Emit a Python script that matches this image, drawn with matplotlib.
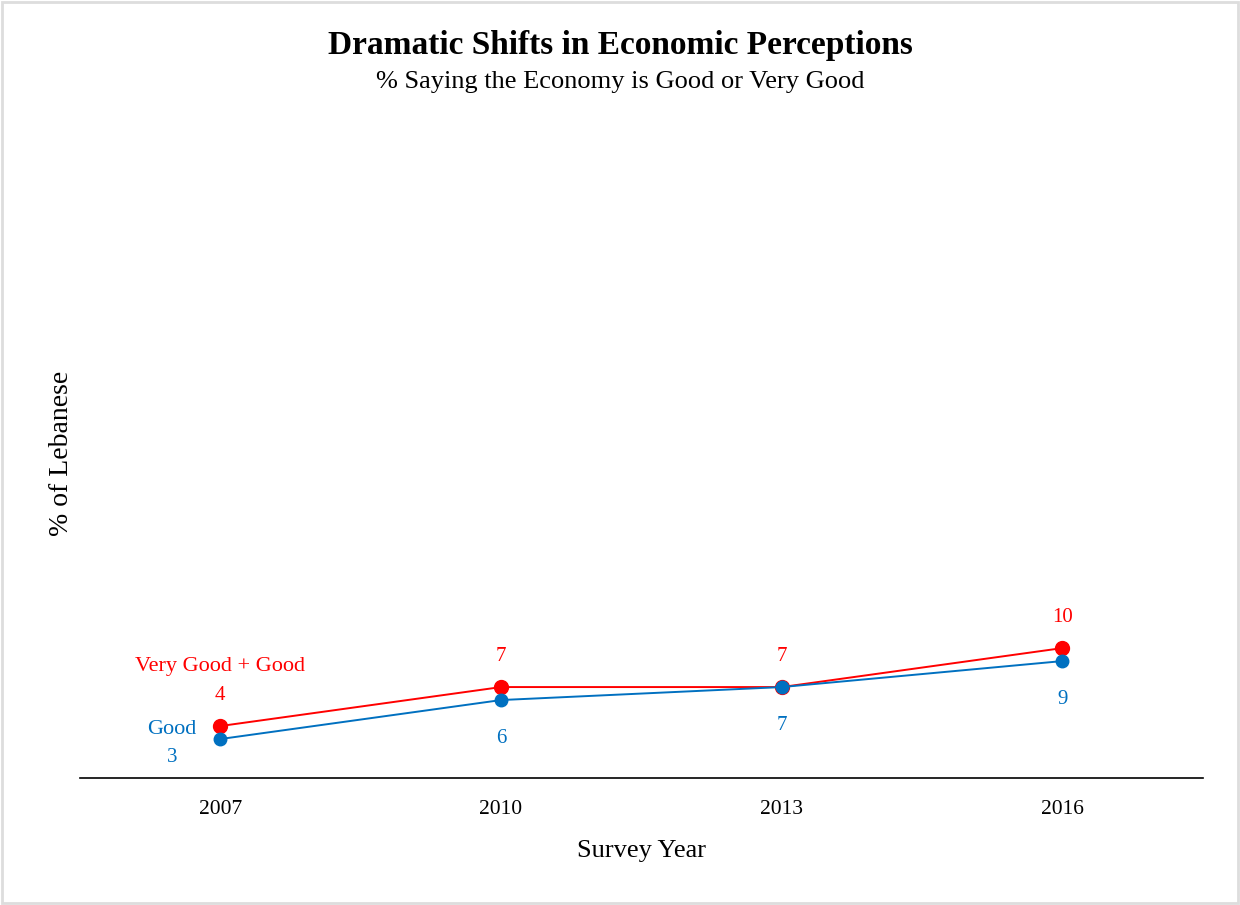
import matplotlib.pyplot as plt
from matplotlib.patches import Rectangle

# Survey data
years = [2007, 2010, 2013, 2016]
very_good_good = [4, 7, 7, 10]
good = [3, 6, 7, 9]

RED = '#FF0000'
BLUE = '#0070C0'
FONT = 'Liberation Serif'

plt.rcParams['font.family'] = FONT

fig = plt.figure(figsize=(12.4, 9.05), dpi=100)
ax = fig.add_axes([0.0645, 0.1403, 0.9055, 0.718])

ax.plot(years, very_good_good, color=RED, lw=1.4, marker='o', ms=10, zorder=3)
ax.plot(years, good, color=BLUE, lw=1.4, marker='o', ms=9, zorder=4)

# value labels: red above, blue below
for i, (x, v) in enumerate(zip(years, very_good_good)):
    ax.annotate(str(v), (x, v), xytext=(0, 22), textcoords='offset points',
                ha='center', va='center', color=RED, fontsize=15)
for i, (x, v) in enumerate(zip(years, good)):
    dx = -35 if i == 0 else 0
    ax.annotate(str(v), (x, v), xytext=(dx, -13 if i == 0 else -28),
                textcoords='offset points', ha='center', va='center',
                color=BLUE, fontsize=15)

# series names at the first point
ax.annotate('Very Good + Good', (years[0], very_good_good[0]), xytext=(0, 43),
            textcoords='offset points', ha='center', va='center', color=RED, fontsize=16)
ax.annotate('Good', (years[0], good[0]), xytext=(-35, 7),
            textcoords='offset points', ha='center', va='center', color=BLUE, fontsize=16)

ax.set_xlim(2005.5, 2017.5)
ax.set_ylim(0, 50)
ax.set_xticks(years)
ax.set_xticklabels([str(y) for y in years], fontsize=15.5)
ax.set_yticks([])
ax.tick_params(axis='x', length=0, pad=16)
for s in ['top', 'right', 'left']:
    ax.spines[s].set_visible(False)
ax.spines['bottom'].set_linewidth(1.2)

ax.set_xlabel('Survey Year', fontsize=19, labelpad=15)
ax.set_ylabel('% of Lebanese', fontsize=20, labelpad=4)

fig.text(0.5, 0.950, 'Dramatic Shifts in Economic Perceptions', ha='center', va='center',
         fontsize=24, fontweight='bold')
fig.text(0.5, 0.909, '% Saying the Economy is Good or Very Good', ha='center', va='center',
         fontsize=19)

# light frame around the figure
fig.patches.append(Rectangle((0.002, 0.002), 0.996, 0.996, transform=fig.transFigure,
                             fill=False, edgecolor='#dddddd', lw=2))

fig.savefig('out.png', dpi=100)
